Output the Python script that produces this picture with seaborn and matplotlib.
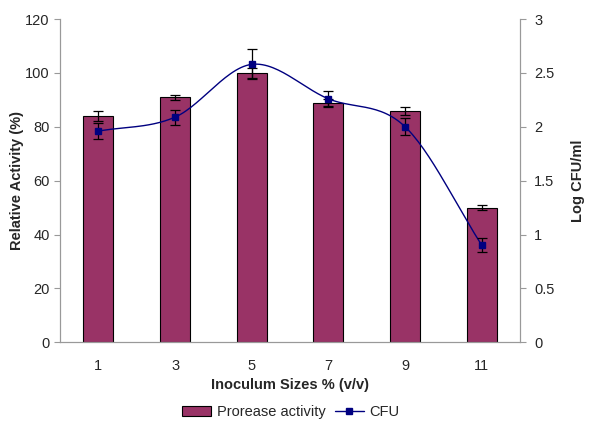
import numpy as np
import pandas as pd
import seaborn as sns
import matplotlib.pyplot as plt
from matplotlib.patches import Patch
from matplotlib.lines import Line2D

# data
sizes = ['1', '3', '5', '7', '9', '11']
activity = [84, 91, 100, 89, 86, 50]
activity_err = [2, 1, 2, 1.5, 1.5, 1]
cfu = [1.96, 2.09, 2.58, 2.26, 2.00, 0.90]
cfu_err = [0.075, 0.07, 0.14, 0.07, 0.08, 0.065]

sns.set_style('white')
plt.rcParams['font.family'] = ['Liberation Sans', 'DejaVu Sans']

bar_color = '#993366'
line_color = '#000080'
axis_gray = '#999999'

df = pd.DataFrame({'size': sizes, 'activity': activity})

fig = plt.figure(figsize=(6, 4.45), dpi=100)
ax = fig.add_axes([0.1, 0.231, 0.767, 0.726])
sns.barplot(ax=ax, data=df, x='size', y='activity', color=bar_color,
            edgecolor='black', linewidth=0.8, width=0.39, saturation=1,
            errorbar=None)
pos = np.arange(len(sizes))
ax.errorbar(pos, activity, yerr=activity_err, fmt='none', ecolor='black',
            elinewidth=0.9, capsize=3.5, capthick=0.9)
ax.set_ylim(0, 120)
ax.set_yticks(range(0, 121, 20))
ax.set_xlim(-0.5, 5.5)
ax.set_xlabel('Inoculum Sizes % (v/v)', fontsize=10.5, fontweight='bold', labelpad=4)
ax.set_ylabel('Relative Activity (%)', fontsize=10.5, fontweight='bold', labelpad=1)

# smoothed CFU curve (Catmull-Rom through the measured points)
ax2 = ax.twinx()
px = pos.astype(float)
py = np.array(cfu)
ext_x = np.concatenate([[2 * px[0] - px[1]], px, [2 * px[-1] - px[-2]]])
ext_y = np.concatenate([[2 * py[0] - py[1]], py, [2 * py[-1] - py[-2]]])
cx, cy = [], []
t = np.linspace(0, 1, 30)
for i in range(1, len(ext_x) - 2):
    p0, p1, p2, p3 = [np.array([ext_x[j], ext_y[j]]) for j in (i - 1, i, i + 1, i + 2)]
    seg = 0.5 * ((2 * p1)[:, None] + (-p0 + p2)[:, None] * t
                 + (2 * p0 - 5 * p1 + 4 * p2 - p3)[:, None] * t ** 2
                 + (-p0 + 3 * p1 - 3 * p2 + p3)[:, None] * t ** 3)
    cx.extend(seg[0])
    cy.extend(seg[1])
ax2.plot(cx, cy, color=line_color, lw=1.0)
ax2.errorbar(pos, cfu, yerr=cfu_err, fmt='s', color=line_color, ms=5,
             ecolor='black', elinewidth=0.9, capsize=3.5, capthick=0.9)
ax2.set_ylim(0, 3)
ax2.set_yticks([0, 0.5, 1, 1.5, 2, 2.5, 3])
ax2.set_yticklabels(['0', '0.5', '1', '1.5', '2', '2.5', '3'])
ax2.set_ylabel('Log CFU/ml', fontsize=10.5, fontweight='bold', labelpad=12)

for a in (ax, ax2):
    for side in a.spines:
        a.spines[side].set_color(axis_gray)
        a.spines[side].set_linewidth(0.8)
    a.spines['top'].set_visible(False)
    a.tick_params(axis='y', direction='out', length=4, color=axis_gray,
                  labelsize=10.5, left=(a is ax), right=(a is ax2))
ax2.tick_params(axis='y', pad=6)

ax.set_xticks(pos)
ax.set_xticklabels(sizes, fontsize=10.5)
ax.tick_params(axis='x', length=0, pad=12)
ax.set_xticks(np.arange(-0.5, 6, 1), minor=True)
ax.tick_params(axis='x', which='minor', direction='out', length=4, color=axis_gray)

handles = [Patch(facecolor=bar_color, edgecolor='black', linewidth=0.8),
           Line2D([], [], color=line_color, marker='s', ms=4, lw=1)]
fig.legend(handles, ['Prorease activity', 'CFU'], loc='center',
           bbox_to_anchor=(0.485, 0.074), ncol=2, frameon=False, fontsize=10.5,
           handlelength=2.0, handletextpad=0.4, columnspacing=0.6)

fig.savefig('out.png', dpi=100)
